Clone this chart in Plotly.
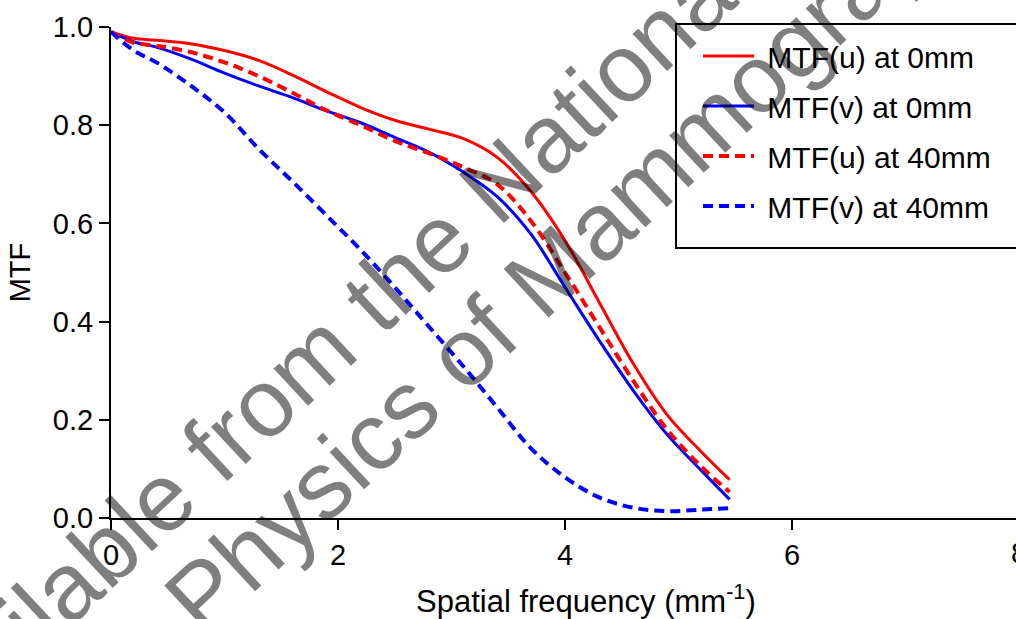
import plotly.graph_objects as go

# Spatial frequency (mm^-1)
freq = [0, 0.2, 0.4, 0.7, 1.0, 1.3, 1.6, 1.9, 2.2, 2.5, 2.8, 3.1, 3.4, 3.7, 4.0, 4.3, 4.6, 4.9, 5.2, 5.45]

mtf_u_0mm = [0.99, 0.977, 0.973, 0.966, 0.952, 0.932, 0.902, 0.868, 0.836, 0.810, 0.792, 0.773, 0.735, 0.665, 0.565, 0.440, 0.315, 0.210, 0.135, 0.078]
mtf_v_0mm = [0.99, 0.970, 0.959, 0.935, 0.906, 0.880, 0.856, 0.829, 0.805, 0.775, 0.745, 0.705, 0.655, 0.578, 0.470, 0.362, 0.260, 0.170, 0.097, 0.038]
mtf_u_40mm = [0.99, 0.968, 0.962, 0.949, 0.928, 0.900, 0.866, 0.830, 0.800, 0.768, 0.743, 0.715, 0.680, 0.605, 0.500, 0.390, 0.280, 0.180, 0.105, 0.053]
mtf_v_40mm = [0.99, 0.952, 0.928, 0.881, 0.826, 0.752, 0.685, 0.616, 0.546, 0.470, 0.390, 0.310, 0.226, 0.142, 0.083, 0.042, 0.021, 0.014, 0.017, 0.020]

series_names = ["MTF(u) at 0mm", "MTF(v) at 0mm", "MTF(u) at 40mm", "MTF(v) at 40mm"]
y_ticks = [0.0, 0.2, 0.4, 0.6, 0.8, 1.0]
x_ticks = [0, 2, 4, 6]

FONT = "Arial, Liberation Sans, sans-serif"
W, H = 1016, 619
L, R, T, B = 111, 0, 27, 101

fig = go.Figure()
styles = [
    dict(color="#FF0000", width=3, dash="solid"),
    dict(color="#0000FF", width=3, dash="solid"),
    dict(color="#FF0000", width=4, dash="10px,6px"),
    dict(color="#0000FF", width=4, dash="10px,6px"),
]
for name, ys, st, g in zip(series_names, [mtf_u_0mm, mtf_v_0mm, mtf_u_40mm, mtf_v_40mm], styles, "abcd"):
    fig.add_trace(go.Scatter(x=freq, y=ys, mode="lines", name="\u00a0" + name, legendgroup=g,
                             line=dict(shape="spline", smoothing=1.0, **st)))

axis_common = dict(showline=True, linecolor="black", linewidth=2, ticks="outside",
                   ticklen=10, tickwidth=2, tickcolor="black", showgrid=False, zeroline=False,
                   tickfont=dict(family=FONT, size=29, color="black"))

fig.update_xaxes(range=[0, (W - L - R) / 113.5], tickvals=x_ticks,
                 ticktext=[str(v) for v in x_ticks], **axis_common)
fig.update_yaxes(range=[0, 1], tickvals=y_ticks, ticktext=[f"{v:.1f}" for v in y_ticks],
                 title=dict(text="MTF", font=dict(family=FONT, size=29, color="black"), standoff=14),
                 **axis_common)

plot_w = W - L - R
plot_h = H - T - B

def px(xp):
    return (xp - L) / plot_w

def py(yp):
    return (H - B - yp) / plot_h

WM = dict(family=FONT, size=96, color="rgba(0,0,0,0.5)")
annotations = [
    dict(text="Spatial frequency (mm<sup>-1</sup>)", x=px(586), y=py(599), xref="paper", yref="paper",
         showarrow=False, xanchor="center", yanchor="middle",
         font=dict(family=FONT, size=31, color="black")),
    dict(text="8", x=px(1019), y=py(553), xref="paper", yref="paper",
         showarrow=False, xanchor="center", yanchor="middle",
         font=dict(family=FONT, size=29, color="black")),
    # watermark
    dict(text="Available from the National Coordinating Centre for the", x=px(747), y=py(-50),
         xref="paper", yref="paper", showarrow=False, xanchor="center", yanchor="middle",
         textangle=-43, font=WM),
    dict(text="Physics of Mammography", x=px(584), y=py(238),
         xref="paper", yref="paper", showarrow=False, xanchor="center", yanchor="middle",
         textangle=-43, font=WM),
]

shapes = [
    dict(type="rect", xref="paper", yref="paper", x0=px(676), x1=px(1040), y0=py(248), y1=py(24),
         line=dict(color="black", width=2), fillcolor="rgba(0,0,0,0)", layer="above"),
]

fig.update_layout(
    width=W, height=H,
    margin=dict(l=L, r=R, t=T, b=B, pad=0),
    paper_bgcolor="white", plot_bgcolor="white",
    font=dict(family=FONT, size=29, color="black"),
    annotations=annotations,
    shapes=shapes,
    legend=dict(x=px(698), y=py(30), xanchor="left", yanchor="top",
                bgcolor="rgba(0,0,0,0)", borderwidth=0,
                font=dict(family=FONT, size=30, color="black"),
                tracegroupgap=8, itemwidth=51, traceorder="grouped"),
)

fig.write_html("out.html")
